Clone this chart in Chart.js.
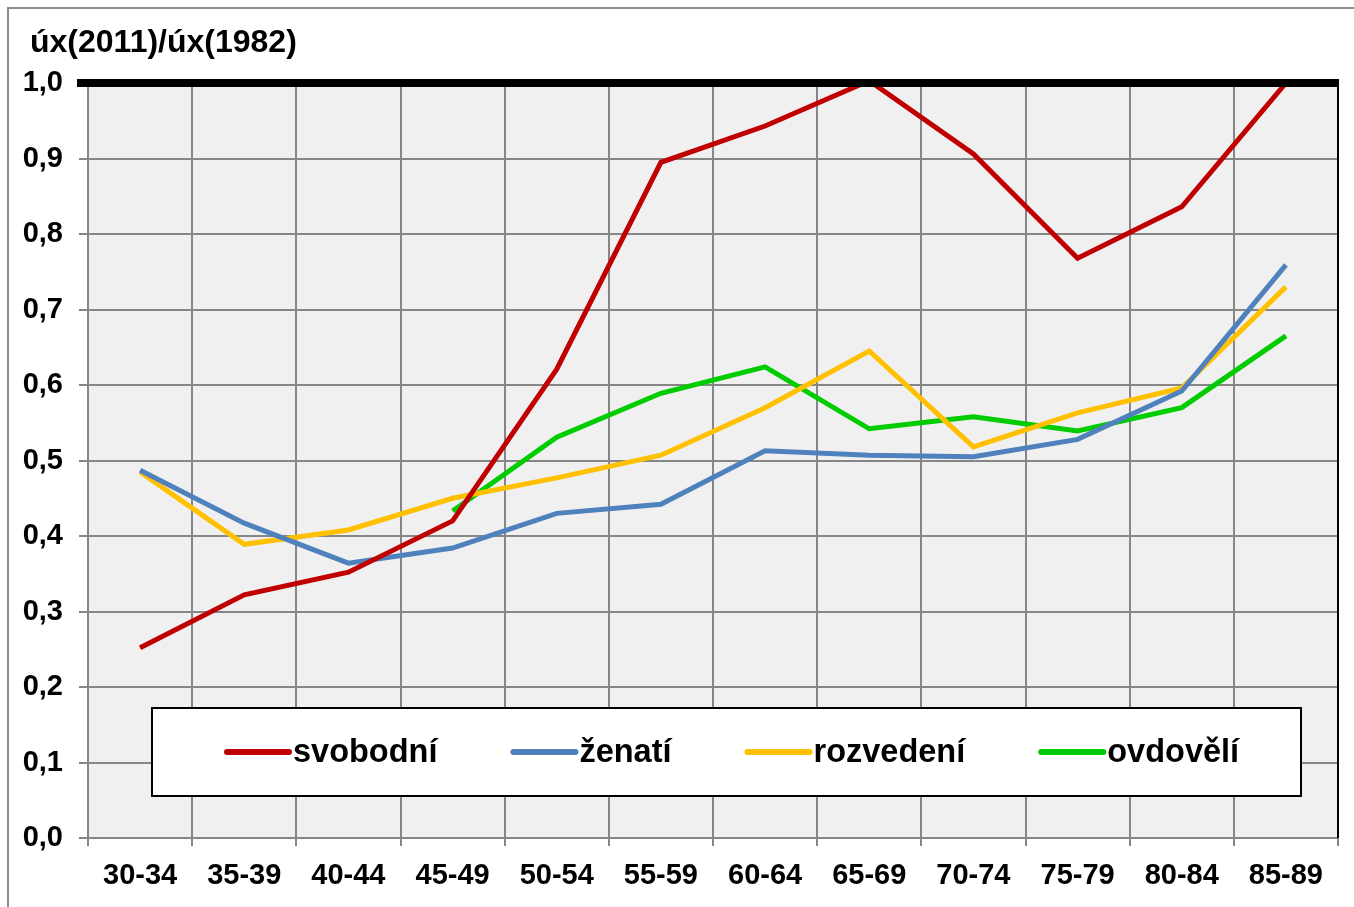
<!DOCTYPE html>
<html>
<head>
<meta charset="utf-8">
<script src="https://cdn.jsdelivr.net/npm/chart.js@4"></script>
<style>
    body { margin: 0; background: #fff; }
    #chart { display: block; }
</style>
</head>
<body>
<canvas id="chart" width="1354" height="907"></canvas>
<script>
// Age groups and ratio values úx(2011)/úx(1982)
const categories = ['30-34', '35-39', '40-44', '45-49', '50-54', '55-59', '60-64', '65-69', '70-74', '75-79', '80-84', '85-89'];
const svobodni = [0.252, 0.322, 0.352, 0.420, 0.621, 0.895, 0.943, 1.003, 0.906, 0.768, 0.836, 1.0];
const zenati = [0.487, 0.417, 0.364, 0.384, 0.430, 0.442, 0.513, 0.507, 0.505, 0.528, 0.592, 0.759];
const rozvedeni = [0.485, 0.389, 0.408, 0.450, 0.477, 0.507, 0.570, 0.645, 0.518, 0.563, 0.596, 0.730];
const ovdoveli = [null, null, null, 0.433, 0.531, 0.589, 0.624, 0.542, 0.558, 0.539, 0.570, 0.665];
const seriesNames = ['svobodní', 'ženatí', 'rozvedení', 'ovdovělí'];
const seriesColors = ['#C00000', '#4F81BD', '#FFC000', '#00CC00'];

const FONT = '"Liberation Sans", Arial, sans-serif';
const GRID = '#868686';

// Background, frame, title, thick 1,0 line and legend box
const decorPlugin = {
    id: 'decor',
    beforeDraw(chart) {
        const ctx = chart.ctx;
        const a = chart.chartArea;
        ctx.save();
        ctx.fillStyle = '#F0F0F0';
        ctx.fillRect(a.left, a.top, a.right - a.left, a.bottom - a.top);
        ctx.strokeStyle = '#8C8C8C';
        ctx.lineWidth = 2;
        ctx.strokeRect(8, 8, 1400, 1000);
        ctx.fillStyle = '#000';
        ctx.font = 'bold 32px ' + FONT;
        ctx.textBaseline = 'alphabetic';
        ctx.fillText('úx(2011)/úx(1982)', 30, 52);
        ctx.restore();
    },
    afterDatasetsDraw(chart) {
        const ctx = chart.ctx;
        const a = chart.chartArea;
        const y1 = chart.scales.y.getPixelForValue(1);
        ctx.save();
        // right border
        ctx.strokeStyle = '#000';
        ctx.lineWidth = 2;
        ctx.beginPath();
        ctx.moveTo(a.right, y1);
        ctx.lineTo(a.right, a.bottom);
        ctx.stroke();
        // thick line at 1,0
        ctx.lineWidth = 8;
        ctx.beginPath();
        ctx.moveTo(a.left - 11, y1);
        ctx.lineTo(a.right + 1, y1);
        ctx.stroke();

        // legend
        ctx.fillStyle = '#fff';
        ctx.fillRect(152, 708, 1149, 88);
        ctx.lineWidth = 2;
        ctx.strokeStyle = '#000';
        ctx.strokeRect(152, 708, 1149, 88);
        ctx.font = 'bold 32.5px ' + FONT;
        ctx.textBaseline = 'middle';
        let x = 227;
        const ly = 752;
        seriesNames.forEach((name, i) => {
            ctx.strokeStyle = seriesColors[i];
            ctx.lineWidth = 6;
            ctx.lineCap = 'round';
            ctx.beginPath();
            ctx.moveTo(x, ly);
            ctx.lineTo(x + 62, ly);
            ctx.stroke();
            ctx.fillStyle = '#000';
            ctx.fillText(name, x + 66, ly + 1);
            x += 66 + ctx.measureText(name).width + 76;
        });
        ctx.restore();
    }
};

const allData = [svobodni, zenati, rozvedeni, ovdoveli];

new Chart(document.getElementById('chart'), {
    type: 'line',
    data: {
        labels: categories,
        datasets: allData.map((d, i) => ({
            label: seriesNames[i],
            data: d,
            borderColor: seriesColors[i],
            backgroundColor: seriesColors[i],
            borderWidth: 5,
            pointRadius: 0,
            tension: 0,
            fill: false
        }))
    },
    options: {
        responsive: false,
        animation: false,
        layout: { padding: { left: 0, top: 83, right: 16, bottom: 0 } },
        plugins: {
            legend: { display: false },
            tooltip: { enabled: false }
        },
        scales: {
            x: {
                offset: true,
                afterFit(scale) { scale.height = 69; },
                grid: {
                    offset: true,
                    color: GRID,
                    lineWidth: 2,
                    tickLength: 8
                },
                border: { color: GRID, width: 2 },
                ticks: {
                    color: '#000',
                    padding: 13,
                    maxRotation: 0,
                    font: { family: FONT, size: 29, weight: 'bold' }
                }
            },
            y: {
                min: 0,
                max: 1,
                afterFit(scale) { scale.width = 88; },
                grid: {
                    color: GRID,
                    lineWidth: 2,
                    tickLength: 9
                },
                border: { color: GRID, width: 2 },
                ticks: {
                    stepSize: 0.1,
                    color: '#000',
                    padding: 16,
                    font: { family: FONT, size: 29, weight: 'bold' },
                    callback: v => v.toFixed(1).replace('.', ',')
                }
            }
        }
    },
    plugins: [decorPlugin]
});
</script>
</body>
</html>
